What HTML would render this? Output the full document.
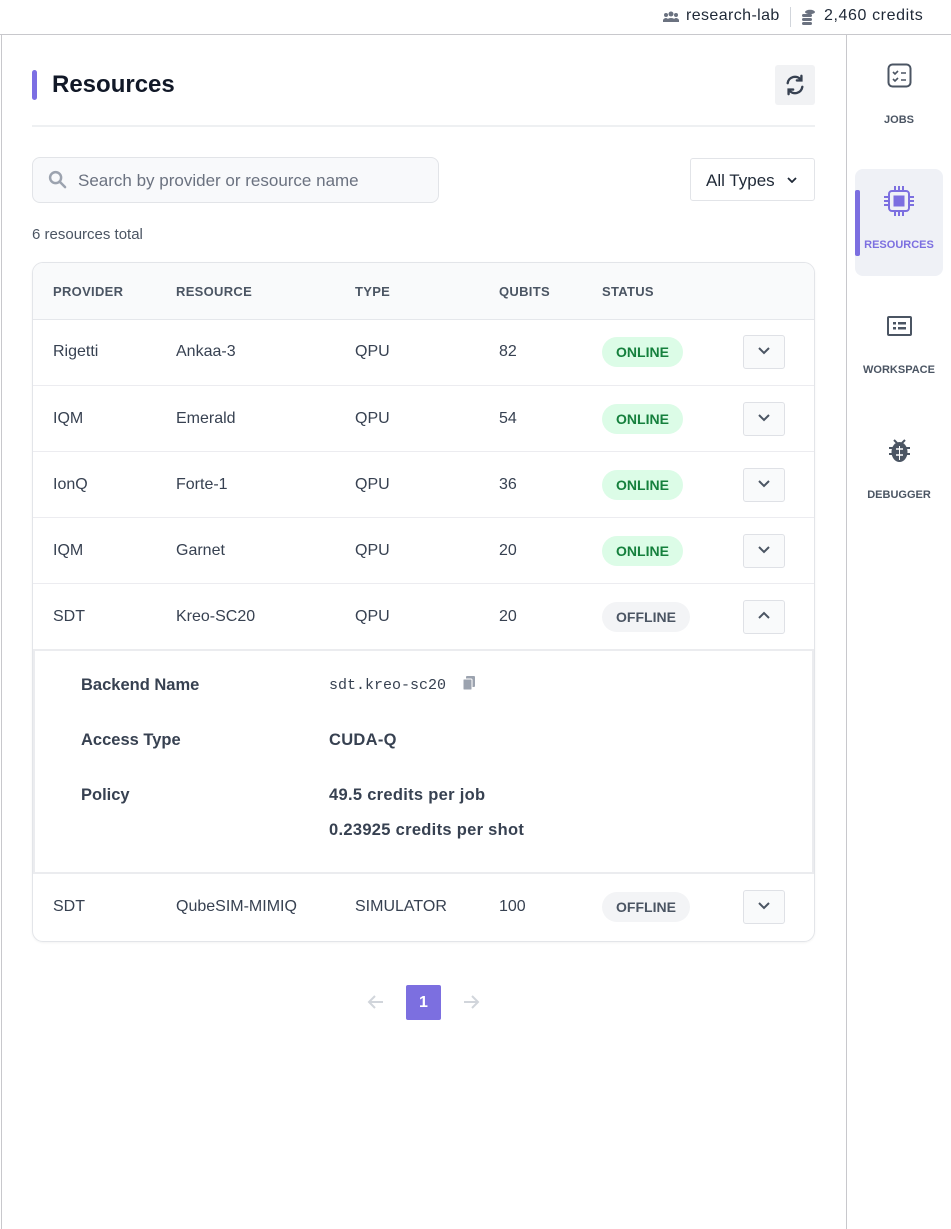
<!DOCTYPE html>
<html><head><meta charset="utf-8"><style>
*{box-sizing:border-box;margin:0;padding:0}
body{width:951px;height:1229px;background:#fff;font-family:"Liberation Sans",sans-serif;color:#1f2937;position:relative;overflow:hidden}
.a{position:absolute}
.th{position:absolute;top:284px;font-size:13px;font-weight:bold;color:#4b5563;letter-spacing:.3px}
.row{position:absolute;left:33px;width:781px;height:66px;border-top:1px solid #ececf0}
.c{position:absolute;top:24px;font-size:16px;color:#374151}
.badge{position:absolute;left:569px;top:18px;height:30px;border-radius:15px;font-size:14px;font-weight:bold;line-height:30px;text-align:center}
.on{background:#dcfce7;color:#15803d;width:81px}
.off{background:#f3f4f6;color:#4b5563;width:88px}
.btn{position:absolute;left:710px;top:16px;width:42px;height:34px;border:1px solid #dfe1e6;border-radius:3px;background:#f9fafb}
.btn svg{position:absolute;left:13px;top:10px}
.nav{position:absolute;left:847px;width:104px;text-align:center;font-size:11px;font-weight:bold;color:#4b5563}
.dl{position:absolute;left:46px;font-size:16.5px;font-weight:bold;color:#374151}
.dv{position:absolute;left:294px;font-size:16.5px;font-weight:bold;color:#374151;letter-spacing:.3px}
</style></head><body>
<div class="a" style="left:0;top:34px;width:951px;height:1px;background:#c8c8cc"></div>
<div class="a" style="left:1px;top:34px;width:1px;height:1195px;background:#c8c8cc"></div>
<div class="a" style="left:846px;top:34px;width:1px;height:1195px;background:#c8c8cc"></div>
<svg class="a" style="left:663px;top:11px" width="16" height="12" viewBox="0 0 16 12"><circle cx="8" cy="3" r="2.5" fill="#6b7280"/><circle cx="3" cy="4" r="2" fill="#6b7280"/><circle cx="13" cy="4" r="2" fill="#6b7280"/><path d="M3 11a5 4 0 0 1 10 0z" fill="#6b7280"/><path d="M0 11a3 3 0 0 1 5-3v3zM16 11a3 3 0 0 0-5-3v3z" fill="#6b7280"/></svg>
<div class="a" style="left:686px;top:7px;font-size:16px;color:#1f2937;letter-spacing:.4px">research-lab</div>
<div class="a" style="left:790px;top:7px;width:1px;height:20px;background:#d1d5db"></div>
<svg class="a" style="left:801px;top:9px" width="15" height="16" viewBox="0 0 15 16"><ellipse cx="9" cy="3" rx="5" ry="2.2" fill="#6b7280"/><rect x="1" y="5" width="10" height="3" rx="1.5" fill="#6b7280"/><rect x="1" y="9" width="10" height="3" rx="1.5" fill="#6b7280"/><rect x="1" y="13" width="10" height="3" rx="1.5" fill="#6b7280"/></svg>
<div class="a" style="left:824px;top:7px;font-size:16px;color:#1f2937;letter-spacing:.6px">2,460 credits</div>

<div class="a" style="left:32px;top:70px;width:5px;height:30px;border-radius:3px;background:#7c6fe3"></div>
<div class="a" style="left:52px;top:71px;font-size:24px;font-weight:bold;color:#111827">Resources</div>
<div class="a" style="left:775px;top:65px;width:40px;height:40px;background:#f1f2f4;border-radius:3px"></div>
<svg class="a" style="left:784px;top:74px" width="22" height="22" viewBox="0 0 24 24" fill="none" stroke="#374151" stroke-width="2.6" stroke-linecap="round"><path d="M4 10a8 8 0 0 1 14.5-3.5M20 14a8 8 0 0 1-14.5 3.5"/><path d="M19 2v5h-5M5 22v-5h5"/></svg>
<div class="a" style="left:32px;top:125px;width:783px;height:2px;background:#eef0f2"></div>

<div class="a" style="left:32px;top:157px;width:407px;height:46px;border:1px solid #e2e4e8;border-radius:8px;background:#f8f9fb"></div>
<svg class="a" style="left:48px;top:170px" width="19" height="19" viewBox="0 0 20 20" fill="none" stroke="#9ca3af" stroke-width="2.6"><circle cx="8" cy="8" r="5.8"/><path d="M12.5 12.5l5.5 5.5" stroke-linecap="round"/></svg>
<div class="a" style="left:78px;top:171px;font-size:17px;color:#6b7280">Search by provider or resource name</div>
<div class="a" style="left:690px;top:158px;width:125px;height:43px;border:1px solid #e2e4e8;border-radius:3px"></div>
<div class="a" style="left:706px;top:171px;font-size:17px;color:#1f2937">All Types</div>
<svg class="a" style="left:787px;top:177px" width="10" height="6" viewBox="0 0 10 6"><path d="M1 1l4 4 4-4" fill="none" stroke="#1f2937" stroke-width="1.8"/></svg>
<div class="a" style="left:32px;top:226px;font-size:15px;color:#4b5563">6 resources total</div>

<div class="a" style="left:32px;top:262px;width:783px;height:680px;border:1px solid #e3e5e9;border-radius:11px;overflow:hidden;box-shadow:0 1px 2px rgba(0,0,0,.05)">
<div class="a" style="left:0;top:0;width:783px;height:57px;background:#f9fafb;border-bottom:1px solid #e5e7eb"></div>
</div>
<div class="th" style="left:53px">PROVIDER</div>
<div class="th" style="left:176px">RESOURCE</div>
<div class="th" style="left:355px">TYPE</div>
<div class="th" style="left:499px">QUBITS</div>
<div class="th" style="left:602px">STATUS</div>

<div class="row" style="top:319px;border-top:none"><div class="c" style="left:20px">Rigetti</div><div class="c" style="left:143px">Ankaa-3</div><div class="c" style="left:322px">QPU</div><div class="c" style="left:466px">82</div><div class="badge on">ONLINE</div><div class="btn"><svg width="14" height="9" viewBox="0 0 14 9"><path d="M2 2l5 5 5-5" fill="none" stroke="#4b5563" stroke-width="2"/></svg></div></div>
<div class="row" style="top:385px"><div class="c" style="left:20px">IQM</div><div class="c" style="left:143px">Emerald</div><div class="c" style="left:322px">QPU</div><div class="c" style="left:466px">54</div><div class="badge on">ONLINE</div><div class="btn"><svg width="14" height="9" viewBox="0 0 14 9"><path d="M2 2l5 5 5-5" fill="none" stroke="#4b5563" stroke-width="2"/></svg></div></div>
<div class="row" style="top:451px"><div class="c" style="left:20px">IonQ</div><div class="c" style="left:143px">Forte-1</div><div class="c" style="left:322px">QPU</div><div class="c" style="left:466px">36</div><div class="badge on">ONLINE</div><div class="btn"><svg width="14" height="9" viewBox="0 0 14 9"><path d="M2 2l5 5 5-5" fill="none" stroke="#4b5563" stroke-width="2"/></svg></div></div>
<div class="row" style="top:517px"><div class="c" style="left:20px">IQM</div><div class="c" style="left:143px">Garnet</div><div class="c" style="left:322px">QPU</div><div class="c" style="left:466px">20</div><div class="badge on">ONLINE</div><div class="btn"><svg width="14" height="9" viewBox="0 0 14 9"><path d="M2 2l5 5 5-5" fill="none" stroke="#4b5563" stroke-width="2"/></svg></div></div>
<div class="row" style="top:583px"><div class="c" style="left:20px">SDT</div><div class="c" style="left:143px">Kreo-SC20</div><div class="c" style="left:322px">QPU</div><div class="c" style="left:466px">20</div><div class="badge off">OFFLINE</div><div class="btn"><svg width="14" height="9" viewBox="0 0 14 9"><path d="M2 7l5-5 5 5" fill="none" stroke="#4b5563" stroke-width="2"/></svg></div></div>
<div class="a" style="left:33px;top:649px;width:781px;height:225px;border:2px solid #ebecef">
<div class="dl" style="top:25px">Backend Name</div>
<div class="a" style="left:294px;top:26px;font-family:'Liberation Mono',monospace;font-size:15px;color:#374151">sdt.kreo-sc20</div>
<svg class="a" style="left:427px;top:25px" width="14" height="15" viewBox="0 0 14 15"><rect x="4" y="0" width="9" height="11" rx="1" fill="#9ca3af"/><rect x="1" y="3" width="9" height="11" rx="1" fill="#9ca3af" stroke="#fff" stroke-width="1"/></svg>
<div class="dl" style="top:80px">Access Type</div>
<div class="dv" style="top:80px">CUDA-Q</div>
<div class="dl" style="top:135px">Policy</div>
<div class="dv" style="top:135px">49.5 credits per job</div>
<div class="dv" style="top:170px">0.23925 credits per shot</div>
</div>
<div class="row" style="top:874px;border-top:none"><div class="c" style="left:20px">SDT</div><div class="c" style="left:143px">QubeSIM-MIMIQ</div><div class="c" style="left:322px">SIMULATOR</div><div class="c" style="left:466px">100</div><div class="badge off">OFFLINE</div><div class="btn"><svg width="14" height="9" viewBox="0 0 14 9"><path d="M2 2l5 5 5-5" fill="none" stroke="#4b5563" stroke-width="2"/></svg></div></div>

<svg class="a" style="left:367px;top:993px" width="18" height="18" viewBox="0 0 18 18" fill="none" stroke="#d1d5db" stroke-width="2"><path d="M16 9H3M8 3L2 9l6 6"/></svg>
<div class="a" style="left:406px;top:985px;width:35px;height:35px;background:#7c6fe0;border-radius:2px;color:#fff;font-size:16px;font-weight:bold;text-align:center;line-height:35px">1</div>
<svg class="a" style="left:462px;top:993px" width="18" height="18" viewBox="0 0 18 18" fill="none" stroke="#d1d5db" stroke-width="2"><path d="M2 9h13M10 3l6 6-6 6"/></svg>

<svg class="a" style="left:887px;top:63px" width="25" height="25" viewBox="0 0 25 25" fill="none" stroke="#4b5563" stroke-width="2"><rect x="1.5" y="1.5" width="22" height="22" rx="4"/><path d="M6 9l2 2 3-3M6 16l2 2 3-3M14 10h5M14 17h5" stroke-width="1.6"/></svg>
<div class="nav" style="top:114px">JOBS</div>
<div class="a" style="left:855px;top:169px;width:88px;height:107px;background:#eff1f6;border-radius:8px"></div>
<div class="a" style="left:855px;top:190px;width:5px;height:66px;background:#7c6fe0;border-radius:2px"></div>
<svg class="a" style="left:882px;top:184px" width="34" height="34" viewBox="0 0 34 34" fill="none" stroke="#7c6fe0" stroke-width="2"><rect x="7" y="7" width="20" height="20" rx="3"/><rect x="11.5" y="11.5" width="11" height="11" fill="#7c6fe0" stroke="none"/><path d="M13 2v5M17 2v5M21 2v5M13 27v5M17 27v5M21 27v5M2 13h5M2 17h5M2 21h5M27 13h5M27 17h5M27 21h5"/></svg>
<div class="nav" style="top:239px;color:#7c6fe0">RESOURCES</div>
<svg class="a" style="left:887px;top:316px" width="25" height="20" viewBox="0 0 25 20"><rect x="1" y="1" width="23" height="18" rx="1" fill="none" stroke="#4b5563" stroke-width="2"/><rect x="6" y="6" width="3" height="2.5" fill="#4b5563"/><rect x="11" y="6" width="8" height="2.5" fill="#4b5563"/><rect x="6" y="11" width="3" height="2.5" fill="#4b5563"/><rect x="11" y="11" width="8" height="2.5" fill="#4b5563"/></svg>
<div class="nav" style="top:364px">WORKSPACE</div>
<svg class="a" style="left:888px;top:438px" width="23" height="25" viewBox="0 0 23 25"><path d="M6 2l3 3M17 2l-3 3" stroke="#4b5563" stroke-width="2"/><ellipse cx="11.5" cy="14" rx="8" ry="10" fill="#4b5563"/><path d="M1 10h4M18 10h4M1 16h4M18 16h4M7 11h9M7 17h9" stroke="#4b5563" stroke-width="2"/><path d="M8 11h7M8 17h7" stroke="#fff" stroke-width="1.5"/><path d="M11.5 8v14" stroke="#fff" stroke-width="1"/></svg>
<div class="nav" style="top:489px">DEBUGGER</div>
</body></html>
